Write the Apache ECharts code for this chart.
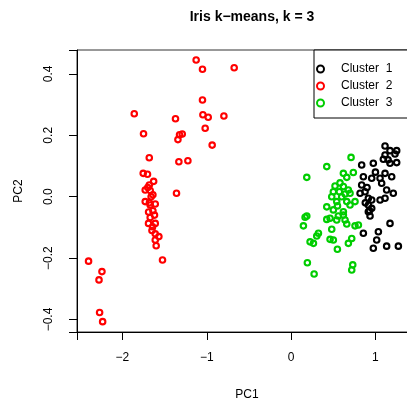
<!DOCTYPE html>
<html>
<head>
<meta charset="utf-8">
<script src="https://cdn.jsdelivr.net/npm/echarts@6/dist/echarts.min.js"></script>
<style>
  html, body { margin: 0; padding: 0; background: #fff; }
  #main { width: 407px; height: 401px; }
</style>
</head>
<body>
<div id="main"></div>
<script>
// cluster 1 (black)
var cluster1 = [
  [1.114, 0.165], [1.173, 0.150], [1.252, 0.150], [1.114, 0.136], [1.232, 0.139],
  [1.094, 0.122], [1.173, 0.109], [1.252, 0.111], [0.837, 0.103], [0.975, 0.109],
  [0.857, 0.065], [0.956, 0.060], [1.055, 0.060], [1.114, 0.076], [1.193, 0.065],
  [1.074, 0.044], [1.133, 0.022], [1.212, 0.011], [0.837, 0.038], [0.877, 0.016],
  [0.818, 0.011], [0.916, -0.005], [0.956, -0.011], [1.055, -0.011], [1.114, -0.005],
  [0.916, -0.027], [0.956, -0.038], [0.916, -0.049], [0.936, -0.063], [1.173, -0.087],
  [0.857, -0.119], [1.035, -0.114], [1.015, -0.141], [0.975, -0.168], [1.133, -0.161],
  [1.272, -0.161], [0.88, -0.020], [0.90, 0.030], [1.00, 0.080], [1.15, 0.120],
  [0.93, -0.045]
];
// cluster 2 (red)
var cluster2 = [
  [-1.126, 0.445], [-1.051, 0.415], [-0.675, 0.420], [-1.051, 0.315], [-1.860, 0.270],
  [-1.371, 0.254], [-1.046, 0.267], [-0.983, 0.259], [-0.797, 0.263], [-1.019, 0.223],
  [-1.750, 0.205], [-1.323, 0.202], [-1.291, 0.204], [-1.342, 0.186], [-0.936, 0.168],
  [-1.682, 0.127], [-1.331, 0.114], [-1.224, 0.117], [-1.754, 0.076], [-1.703, 0.073],
  [-1.682, 0.038], [-1.730, 0.022], [-1.671, 0.020], [-1.639, 0.006], [-1.359, 0.011],
  [-1.730, -0.016], [-1.671, -0.027], [-1.611, -0.024], [-1.639, -0.046], [-1.671, -0.068],
  [-1.691, -0.087], [-1.611, -0.087], [-1.643, -0.098], [-1.611, -0.121], [-1.568, -0.130],
  [-1.611, -0.141], [-1.600, -0.160], [-1.525, -0.206], [-2.402, -0.210], [-2.243, -0.244],
  [-2.278, -0.271], [-2.271, -0.377], [-2.235, -0.407], [-1.66, 0.000], [-1.69, -0.050],
  [-1.63, 0.050], [-1.65, -0.110], [-1.70, 0.030], [-1.62, -0.060], [-1.68, -0.020]
];
// cluster 3 (green)
var cluster3 = [
  [0.711, 0.128], [0.423, 0.098], [0.186, 0.063], [0.620, 0.076], [0.738, 0.079],
  [0.660, 0.063], [0.521, 0.035], [0.620, 0.033], [0.679, 0.022], [0.501, 0.016],
  [0.572, 0.016], [0.640, 0.009], [0.699, 0.011], [0.482, 0.000], [0.600, 0.000],
  [0.541, -0.016], [0.660, -0.016], [0.758, -0.016], [0.423, -0.033], [0.501, -0.043],
  [0.620, -0.049], [0.699, -0.027], [0.560, -0.063], [0.462, -0.070], [0.423, -0.074],
  [0.640, -0.076], [0.541, -0.076], [0.166, -0.067], [0.186, -0.063], [0.146, -0.095],
  [0.758, -0.095], [0.798, -0.092], [0.660, -0.089], [0.482, -0.106], [0.324, -0.119],
  [0.304, -0.128], [0.225, -0.147], [0.265, -0.152], [0.462, -0.139], [0.501, -0.141],
  [0.719, -0.136], [0.679, -0.152], [0.549, -0.171], [0.193, -0.215], [0.273, -0.252],
  [0.731, -0.222], [0.719, -0.239], [0.58, 0.045], [0.55, -0.030], [0.62, -0.060]
];
var clusterNames = ['Cluster  1', 'Cluster  2', 'Cluster  3'];
var clusterColors = ['#000000', '#ff0000', '#00cd00'];
var xTicks = [-2, -1, 0, 1];
var yTicks = [-0.4, -0.2, 0, 0.2, 0.4];

var font = 'Liberation Sans, Arial, Helvetica, sans-serif';
var chart = echarts.init(document.getElementById('main'));

function makeSeries(name, data, color) {
  return {
    name: name,
    type: 'scatter',
    data: data,
    symbol: 'circle',
    symbolSize: 5.5,
    itemStyle: { color: 'rgba(0,0,0,0)', borderColor: color, borderWidth: 2.1, opacity: 1 },
    emphasis: { disabled: true },
    clip: true
  };
}

var option = {
  animation: false,
  backgroundColor: '#fff',
  title: {
    text: 'Iris k\u2212means, k = 3',
    left: 247,
    top: 5,
    textAlign: 'center',
    textStyle: { fontFamily: font, fontSize: 14, fontWeight: 'bold', color: '#000' }
  },
  grid: {
    left: 77, top: 50, right: -10, bottom: 69,
    outerBoundsMode: 'none',
    containLabel: false,
    show: true, borderColor: '#333', borderWidth: 1, backgroundColor: 'transparent'
  },
  legend: {
    orient: 'vertical',
    left: 314,
    top: 50,
    padding: [13, 18, 9, 2],
    itemGap: 5,
    itemWidth: 7,
    itemHeight: 7,
    borderColor: '#000',
    borderWidth: 1,
    backgroundColor: '#fff',
    data: clusterNames,
    textStyle: { fontFamily: font, fontSize: 12, color: '#000', padding: [0, 0, 0, 12] }
  },
  xAxis: {
    type: 'value',
    min: -2.539, max: 1.493,
    name: 'PC1',
    nameLocation: 'middle',
    nameGap: 57,
    nameTextStyle: { fontFamily: font, fontSize: 12, color: '#000' },
    axisLine: { show: true, onZero: false, lineStyle: { color: '#000', width: 1 } },
    splitLine: { show: false },
    axisTick: { show: true, inside: false, length: 8, lineStyle: { color: '#000' } },
    axisLabel: {
      customValues: xTicks, margin: 20, fontFamily: font, fontSize: 12, color: '#000',
      formatter: function (v) { return String(v).replace('-', '\u2212'); }
    }
  },
  yAxis: {
    type: 'value',
    min: -0.4407, max: 0.4778,
    name: 'PC2',
    nameLocation: 'middle',
    nameGap: 52,
    nameRotate: 90,
    nameTextStyle: { fontFamily: font, fontSize: 12, color: '#000' },
    axisLine: { show: true, onZero: false, lineStyle: { color: '#000', width: 1 } },
    splitLine: { show: false },
    axisTick: { show: true, inside: false, length: 8, lineStyle: { color: '#000' } },
    axisLabel: {
      customValues: yTicks, margin: 22, rotate: 90, fontFamily: font, fontSize: 12, color: '#000',
      formatter: function (v) { return v.toFixed(1).replace('-', '\u2212'); }
    }
  },
  series: [
    makeSeries(clusterNames[0], cluster1, clusterColors[0]),
    makeSeries(clusterNames[1], cluster2, clusterColors[1]),
    makeSeries(clusterNames[2], cluster3, clusterColors[2])
  ]
};
chart.setOption(option);
</script>
</body>
</html>
